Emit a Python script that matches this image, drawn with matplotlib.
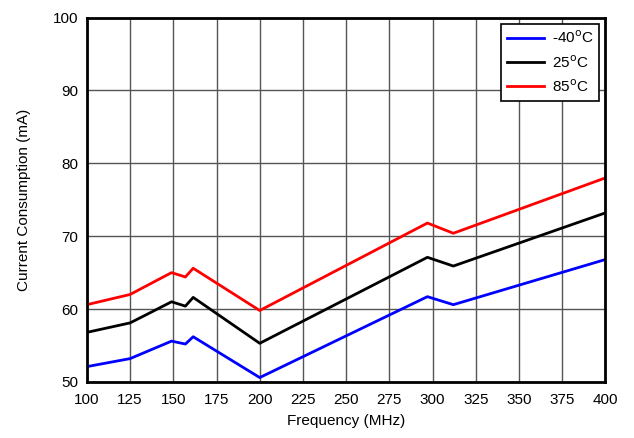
import matplotlib
matplotlib.use('Agg')
import matplotlib.pyplot as plt

freq = [100, 125, 149, 157, 161.5, 200, 297, 312, 400]
freq_25 = [100, 125, 135, 149, 157, 161.5, 200, 297, 312, 400]
cur_m40 = [52.1, 53.2, 55.6, 55.2, 56.2, 50.6, 61.7, 60.6, 66.8]
cur_25 = [56.8, 58.1, 59.3, 61.0, 60.4, 61.6, 55.3, 67.1, 65.9, 73.2]
cur_85 = [60.6, 62.0, 65.0, 64.4, 65.6, 59.8, 71.8, 70.4, 78.0]

plt.rcParams['font.family'] = ['Liberation Sans', 'DejaVu Sans']
fig, ax = plt.subplots(figsize=(6.34, 4.38), dpi=100)
fig.subplots_adjust(left=0.137, right=0.955, top=0.96, bottom=0.128)

ax.plot(freq, cur_m40, color='#0000ff', lw=2, label='-40$^{\\rm o}$C')
ax.plot(freq_25, cur_25, color='black', lw=2, label='25$^{\\rm o}$C')
ax.plot(freq, cur_85, color='#ff0000', lw=2, label='85$^{\\rm o}$C')

ax.set_xlim(100, 400)
ax.set_ylim(50, 100)
ax.set_xticks(range(100, 401, 25))
ax.set_yticks(range(50, 101, 10))
ax.tick_params(labelsize=11, length=0)
ax.tick_params(axis='x', pad=8)
ax.tick_params(axis='y', pad=6)
ax.grid(True, color='#555555', lw=1)
for s in ax.spines.values():
    s.set_linewidth(2)
ax.set_xlabel('Frequency (MHz)', fontsize=11, labelpad=5)
ax.set_ylabel('Current Consumption (mA)', fontsize=11, labelpad=16)
leg = ax.legend(loc='upper right', fontsize=11, fancybox=False, framealpha=1,
                edgecolor='black', borderaxespad=0.4, handlelength=2.4,
                handletextpad=0.5)
leg.get_frame().set_linewidth(1.2)

fig.savefig('out.png')
